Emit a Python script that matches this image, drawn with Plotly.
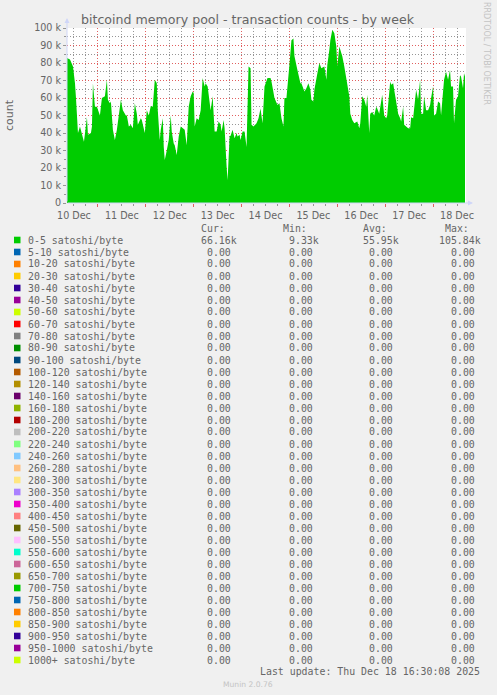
import pandas as pd
import plotly.graph_objects as go

# ---------------- data ----------------
start_time = "2025-12-10 08:30"
end_time = "2025-12-18 16:30"
hours_offset = [0, 1.5, 3, 4, 4.5, 5.5, 6.5, 7.5, 8.5, 10, 10.5, 12, 12.5, 13, 14, 15, 16.5, 17.5, 19, 20,
                20.5, 21.5, 22, 23, 24, 25, 26, 27, 28, 29.5, 30, 31, 32, 33, 34, 35, 35.5, 37, 37.5, 38.5,
                39, 40, 41, 42, 43, 44, 45, 45.5, 46.5, 47, 48, 48.5, 49, 50, 51, 52, 52.5, 53.5, 54, 55,
                56, 57, 58, 59, 60, 61, 62, 63, 63.5, 64, 65, 66, 67, 68, 69, 69.5, 70.5, 71, 72, 73,
                74, 75, 76, 77, 77.5, 78.5, 79, 80, 80.5, 81.5, 82, 83, 84, 85, 85.5, 86.5, 87, 88, 89, 90,
                91, 92, 92.5, 93.5, 95, 96, 97, 98, 99, 100.5, 102, 102.5, 103.5, 104, 105.5, 106.5, 107.5, 108.5, 109, 110,
                111.5, 112.5, 113.5, 114, 115.5, 117, 117.5, 118.5, 119, 120, 121, 122, 122.5, 123.5, 124, 125.5, 126.5, 127.5, 129, 130,
                130.5, 131.5, 132, 133, 134, 135, 135.5, 136.5, 137, 138, 139, 140, 140.5, 141.5, 142, 143, 144, 145.5, 146.5, 147,
                148, 149, 150, 150.5, 151.5, 152, 153, 154, 155, 155.5, 156.5, 157, 158, 159, 160, 160.5, 162, 162.5, 163.5, 164,
                165, 166, 167, 167.5, 168.5, 169, 170, 171, 172, 172.5, 173.5, 174, 175, 176, 177, 177.5, 178.5, 179, 180, 181,
                182, 182.5, 183.5, 184, 185, 186, 187, 187.5, 188.5, 189, 190, 191, 192, 192.5, 193.5, 194, 195, 196, 197, 197.5,
                198.5, 199, 199.5]
tx_counts = [82.8, 82, 78, 68.5, 60, 40, 43.7, 40, 35, 49, 39, 40, 43.7, 68.5, 55, 55, 50, 60, 61, 70.4,
             59, 57, 58, 41.8, 36, 41.8, 50, 59, 53, 50, 50, 43.7, 44.7, 42.7, 57, 51, 44.7, 48.5, 47.5, 40.8,
             40, 53, 50, 55.5, 55, 70.4, 68.5, 53, 36, 41.8, 48.5, 32, 24.6, 30, 36, 50, 40.8, 34, 33, 27.5,
             38, 43.7, 42.7, 41.8, 33, 55, 61, 63.7, 62.8, 43.7, 48.5, 47.5, 53, 71.4, 66.6, 68.5, 66.6, 62.8, 53, 61,
             40.8, 40.8, 46.6, 44.7, 40.8, 47.5, 42.7, 20.8, 13, 38, 38.4, 41.8, 37, 40, 38, 39, 36, 40.8, 40.8, 32,
             78, 77, 44.7, 43.7, 45.6, 48.5, 54, 45.6, 66.6, 71.4, 71.4, 69.5, 61.8, 60, 56, 57, 48.5, 43.7, 60, 60,
             79, 93, 94, 84, 76, 68.5, 68.5, 64.7, 63.7, 65.6, 68.5, 64.7, 59, 58, 64.7, 74.2, 80, 77, 78, 70.4,
             79, 87.6, 93, 99, 97, 89.5, 78, 89.5, 87.6, 83.8, 78, 71.4, 68.5, 61, 51, 47.5, 45.6, 46.6, 42.7, 45.6,
             61, 59, 55, 61.8, 40, 51, 52, 50, 55, 54, 51, 54, 61.8, 50, 48.5, 50, 69.5, 67.6, 68.5, 64.7,
             57, 51, 48.5, 46.6, 55, 44.7, 43.7, 42.7, 42.7, 49, 48.5, 54, 64.7, 59, 70.4, 51, 51, 61, 53, 53,
             56, 60, 66.6, 50, 51, 58, 57, 50, 61, 70.4, 75, 70.4, 76, 66.6, 66.6, 45.6, 59, 61, 73, 72.3,
             65.6, 74.2, 72.3]  # thousands

y_tick_vals = [0, 10000, 20000, 30000, 40000, 50000, 60000, 70000, 80000, 90000, 100000]
y_tick_text = ["0", "10 k", "20 k", "30 k", "40 k", "50 k", "60 k", "70 k", "80 k", "90 k", "100 k"]

series_names = ["0-5", "5-10", "10-20", "20-30", "30-40", "40-50", "50-60", "60-70", "70-80", "80-90",
                "90-100", "100-120", "120-140", "140-160", "160-180", "180-200", "200-220", "220-240",
                "240-260", "260-280", "280-300", "300-350", "350-400", "400-450", "450-500", "500-550",
                "550-600", "600-650", "650-700", "700-750", "750-800", "800-850", "850-900", "900-950",
                "950-1000", "1000+"]
series_colors = ["#00CC00", "#0066B3", "#FF8000", "#FFCC00", "#330099", "#990099", "#CCFF00", "#FF0000",
                 "#808080", "#008F00", "#00487D", "#B35A00", "#B38F00", "#6B006B", "#8FB300", "#B30000",
                 "#BEBEBE", "#80FF80", "#80C9FF", "#FFC080", "#FFE680", "#AA80FF", "#EE00CC", "#FF8080",
                 "#666600", "#FFBFFF", "#00FFCC", "#CC6699", "#999900", "#00CC00", "#0066B3", "#FF8000",
                 "#FFCC00", "#330099", "#990099", "#CCFF00"]
cur_vals = [66160] + [0] * 35
min_vals = [9330] + [0] * 35
avg_vals = [55950] + [0] * 35
max_vals = [105840] + [0] * 35

title_text = "bitcoind memory pool - transaction counts - by week"
last_update = "Last update: Thu Dec 18 16:30:08 2025"
munin_version = "Munin 2.0.76"

# ---------------- figure ----------------
W, H = 497, 695
def px(x):
    return x / W
def py(y):
    return 1 - y / H

t0 = pd.Timestamp(start_time)
times = [t0 + pd.Timedelta(hours=h) for h in hours_offset]
values = [v * 1000 for v in tx_counts]

FONT = "#666666"
GRID = "rgba(150,150,150,1)"
MGRID = "rgba(225,95,95,1)"
AXIS = "#CFD6F8"
DOT = "1px,2px"

fig = go.Figure()
fig.add_trace(go.Scatter(x=times, y=values, mode="lines", line=dict(width=0, color=series_colors[0]),
                         fill="tozeroy", fillcolor=series_colors[0], hoverinfo="x+y", showlegend=False))

fig.update_layout(
    template="none",
    width=W, height=H, autosize=False,
    margin=dict(l=0, r=0, t=0, b=0, pad=0),
    paper_bgcolor="#F0F0F0", plot_bgcolor="#FFFFFF",
    font=dict(family="DejaVu Sans", color=FONT, size=9.6),
    showlegend=False,
    xaxis=dict(
        domain=[px(67), px(466)], type="date", automargin=False,
        range=[start_time, end_time],
        tick0="2025-12-11", dtick=86400000, tickformat="%d %b", ticklabelmode="period",
        showgrid=True, gridcolor=MGRID, griddash=DOT, gridwidth=1,
        ticks="outside", ticklen=3, tickcolor=MGRID,
        minor=dict(dtick=21600000, showgrid=True, gridcolor=GRID, griddash=DOT, gridwidth=1,
                   ticks="outside", ticklen=2, tickcolor=GRID),
        showline=False, zeroline=False, fixedrange=True,
        tickfont=dict(size=9.6, color=FONT),
    ),
    yaxis=dict(
        domain=[py(203), py(28)], range=[0, 100000], automargin=False,
        tickmode="array", tickvals=y_tick_vals, ticktext=y_tick_text,
        showgrid=True, gridcolor=MGRID, griddash=DOT, gridwidth=1,
        ticks="outside", ticklen=3, tickcolor=GRID,
        minor=dict(dtick=5000, showgrid=True, gridcolor=GRID, griddash=DOT, gridwidth=1,
                   ticks="outside", ticklen=2, tickcolor=GRID),
        showline=False, zeroline=False, fixedrange=True,
        tickfont=dict(size=9.6, color=FONT),
    ),
)

ann = []
# title
ann.append(dict(text=title_text, x=px(248), y=py(19), xref="paper", yref="paper",
                xanchor="center", yanchor="middle", showarrow=False,
                font=dict(family="DejaVu Sans", size=12.6, color=FONT)))
# y label
ann.append(dict(text="count", x=px(10), y=py(115), xref="paper", yref="paper", textangle=-90,
                xanchor="center", yanchor="middle", showarrow=False,
                font=dict(family="DejaVu Sans", size=11, color=FONT)))
# watermark
ann.append(dict(text="RRDTOOL / TOBI OETIKER", x=px(487), y=py(53), xref="paper", yref="paper",
                textangle=90, xanchor="center", yanchor="middle", showarrow=False,
                font=dict(family="DejaVu Sans", size=8, color="#C4C4C4")))
# axis arrows
ann.append(dict(text="", x=px(67), y=py(18), xref="paper", yref="paper", showarrow=True,
                ax=0, ay=185, arrowhead=2, arrowsize=1, arrowwidth=1, arrowcolor=AXIS))
ann.append(dict(text="", x=px(473), y=py(203), xref="paper", yref="paper", showarrow=True,
                ax=-407, ay=0, arrowhead=2, arrowsize=1, arrowwidth=1, arrowcolor=AXIS))

MONO = "DejaVu Sans Mono"
LS = 9.9

def fmt(v):
    if v >= 1000:
        return "%.2fk" % (v / 1000.0)
    return "%.2f\u00a0" % v

col_edges = [239, 321, 401, 483]
headers = ["Cur:", "Min:", "Avg:", "Max:"]
for edge, h in zip(col_edges, headers):
    ann.append(dict(text=h, x=px(edge - 12), y=py(228), xref="paper", yref="paper",
                    xanchor="right", yanchor="middle", showarrow=False,
                    font=dict(family=MONO, size=LS, color=FONT)))

shapes = []
for i, name in enumerate(series_names):
    yc = 240 + 12 * i
    shapes.append(dict(type="rect", xref="paper", yref="paper",
                       x0=px(14), x1=px(20.5), y0=py(yc + 3.3), y1=py(yc - 3.3),
                       fillcolor=series_colors[i], line=dict(width=0)))
    ann.append(dict(text=name + " satoshi/byte", x=px(26), y=py(yc), xref="paper", yref="paper",
                    xanchor="left", yanchor="middle", showarrow=False,
                    font=dict(family=MONO, size=LS, color=FONT)))
    for edge, vals in zip(col_edges, [cur_vals, min_vals, avg_vals, max_vals]):
        ann.append(dict(text=fmt(vals[i]), x=px(edge), y=py(yc), xref="paper", yref="paper",
                        xanchor="right", yanchor="middle", showarrow=False,
                        font=dict(family=MONO, size=LS, color=FONT)))

ann.append(dict(text=last_update, x=px(482), y=py(671), xref="paper", yref="paper",
                xanchor="right", yanchor="middle", showarrow=False,
                font=dict(family=MONO, size=LS, color=FONT)))
ann.append(dict(text=munin_version, x=px(247.5), y=py(684), xref="paper", yref="paper",
                xanchor="center", yanchor="middle", showarrow=False,
                font=dict(family="DejaVu Sans", size=7.6, color="#C4C4C4")))

fig.update_layout(annotations=ann, shapes=shapes)
fig.write_html("out.html", config={"displayModeBar": False},
               post_script="document.body.style.margin='0px';document.body.style.background='#F0F0F0';document.body.style.overflow='hidden';")
